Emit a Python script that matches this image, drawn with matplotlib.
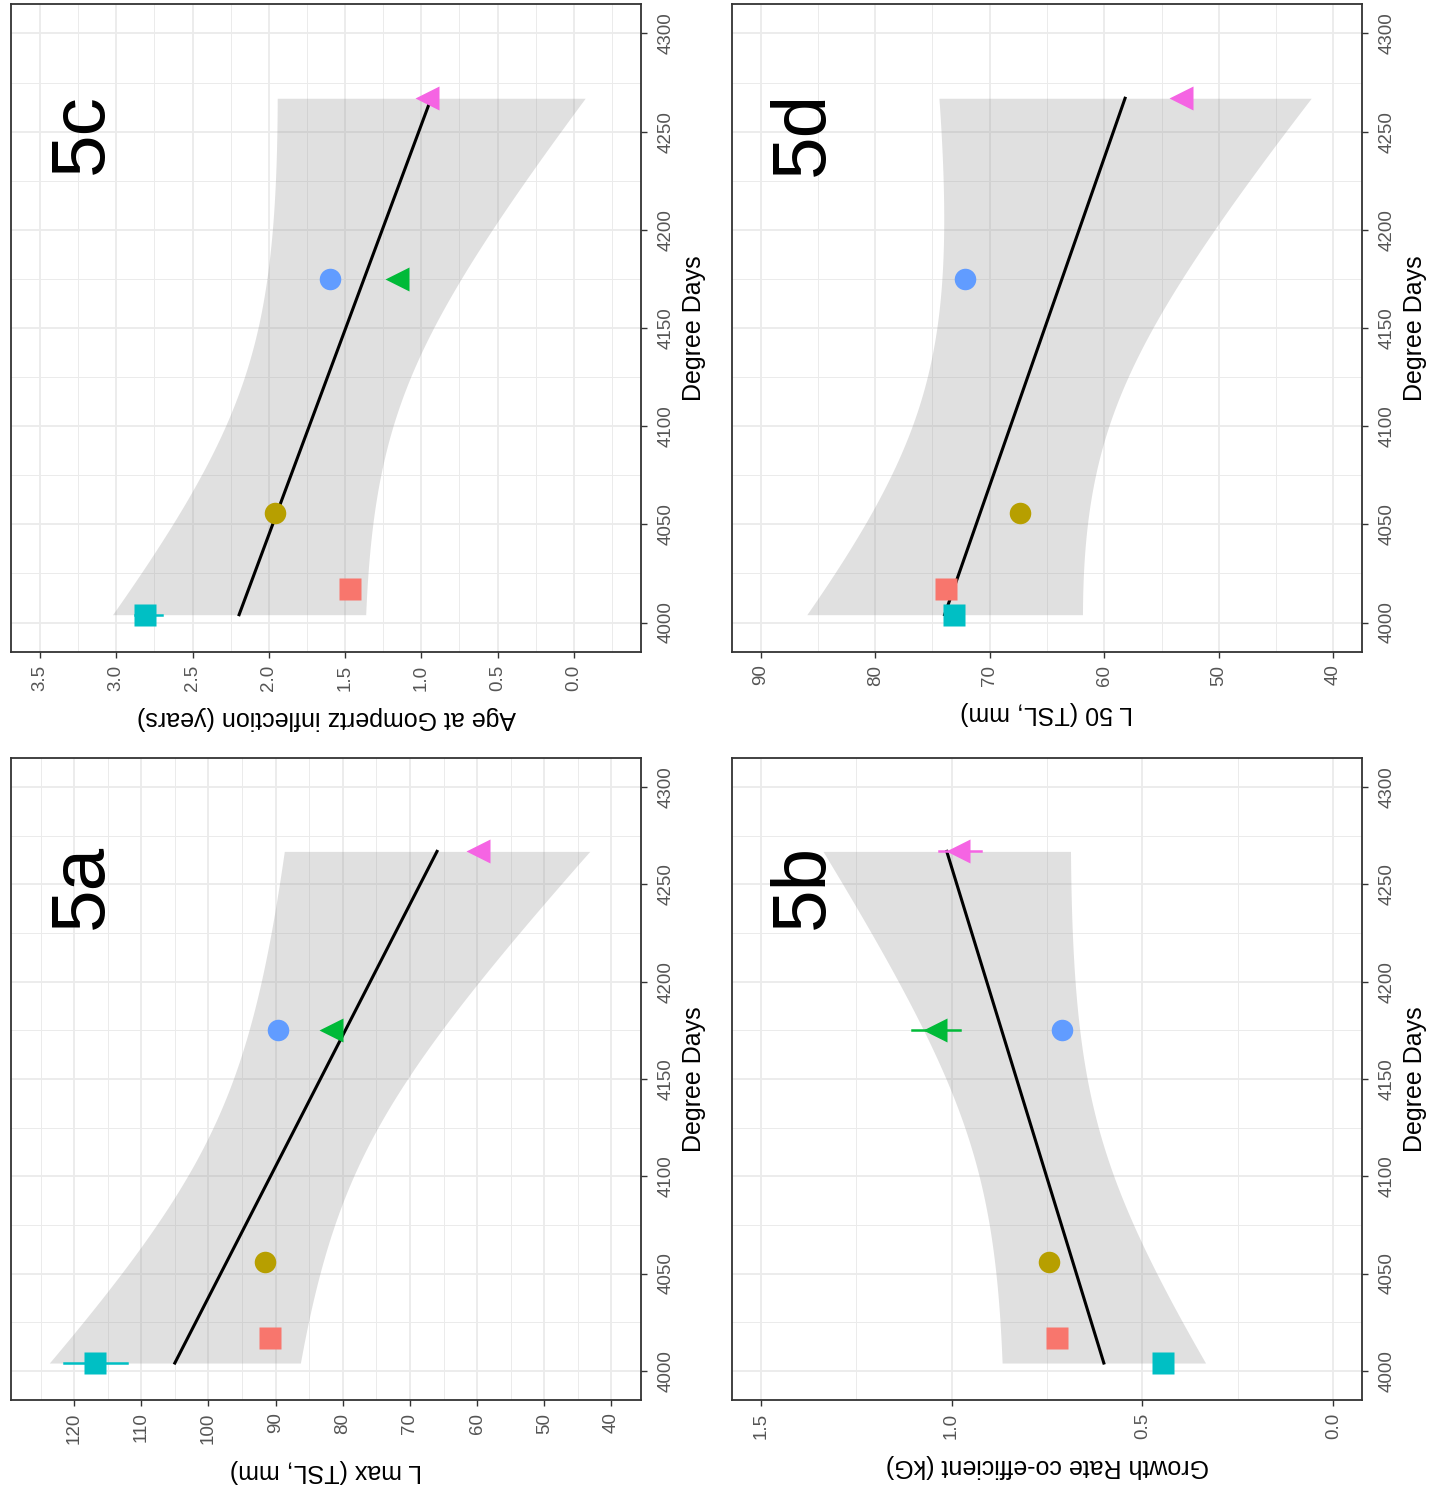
import numpy as np
import matplotlib
matplotlib.use("Agg")
import matplotlib.pyplot as plt
from matplotlib.ticker import MultipleLocator

plt.rcParams['font.family'] = ['Liberation Sans', 'DejaVu Sans']

# ---------------- data ----------------
groups = ["G1", "G2", "G3", "G4", "G5", "G6"]
degree_days = [4004, 4017, 4056, 4175, 4175, 4267]
group_colors = ["#00BFC4", "#F8766D", "#B79F00", "#619CFF", "#00BA38", "#F564E3"]
group_markers = ["s", "s", "o", "o", "<", "<"]

l_max = [116.9, 90.9, 91.6, 89.6, 81.8, 59.8]
l_max_lo = [112.1, None, None, None, None, None]
l_max_hi = [121.5, None, None, None, None, None]

growth_kg = [0.447, 0.724, 0.745, 0.712, 1.044, 0.983]
growth_kg_lo = [None, None, None, None, 0.977, 0.923]
growth_kg_hi = [None, None, None, None, 1.104, 1.032]

age_inflection = [2.81, 1.47, 1.96, 1.60, 1.16, 0.96]
age_inflection_lo = [2.70, None, None, None, None, None]
age_inflection_hi = [2.88, None, None, None, None, None]

l50 = [73.1, 73.8, 67.4, 72.2, None, 53.3]
l50_lo = [None] * 6
l50_hi = [None] * 6

panel_labels = ["5a", "5b", "5c", "5d"]
value_titles = ["L max (TSL, mm)", "Growth Rate co-efficient (kG)",
                "Age at Gompertz inflection (years)", "L 50 (TSL, mm)"]
value_ticks = [[40, 50, 60, 70, 80, 90, 100, 110, 120],
               [0.0, 0.5, 1.0, 1.5],
               [0.0, 0.5, 1.0, 1.5, 2.0, 2.5, 3.0, 3.5],
               [40, 50, 60, 70, 80, 90]]
value_ticklabels = [[str(v) for v in value_ticks[0]],
                    ["0.0", "0.5", "1.0", "1.5"],
                    ["0.0", "0.5", "1.0", "1.5", "2.0", "2.5", "3.0", "3.5"],
                    [str(v) for v in value_ticks[3]]]
value_limits = [(129.4, 35.6), (1.575, -0.075), (3.69, -0.44), (92.5, 37.5)]
dd_ticks = [4000, 4050, 4100, 4150, 4200, 4250, 4300]
dd_limits = (3985, 4315)

# t quantiles (0.975) by residual degrees of freedom, for lm confidence band
t975 = {3: 3.182446, 4: 2.776445}

# ---------------- figure ----------------
W, H = 1431, 1499
fig = plt.figure(figsize=(W / 100, H / 100), dpi=100)

def px_axes(x0, y0, x1, y1):
    return fig.add_axes([x0 / W, 1 - y1 / H, (x1 - x0) / W, (y1 - y0) / H])

# panel frames in pixel coords (x0, y0, x1, y1) -- figure is shown rotated
frames = {
    "5a": (11, 758, 641, 1400),
    "5b": (732, 758, 1362, 1400),
    "5c": (11, 4, 641, 652),
    "5d": (732, 4, 1362, 652),
}
series = {
    "5a": (l_max, l_max_lo, l_max_hi),
    "5b": (growth_kg, growth_kg_lo, growth_kg_hi),
    "5c": (age_inflection, age_inflection_lo, age_inflection_hi),
    "5d": (l50, l50_lo, l50_hi),
}

grid_col = "#EBEBEB"
frame_col = "#333333"

for i, lab in enumerate(panel_labels):
    ax = px_axes(*frames[lab])
    vals, lo, hi = series[lab]
    xs = np.array(degree_days, dtype=float)
    ys = np.array([np.nan if v is None else v for v in vals], dtype=float)
    ok = ~np.isnan(ys)
    xo, yo = xs[ok], ys[ok]

    # linear fit + 95% confidence band (as geom_smooth(method = "lm"))
    n = len(xo)
    b1, b0 = np.polyfit(xo, yo, 1)
    resid = yo - (b0 + b1 * xo)
    s = np.sqrt(np.sum(resid ** 2) / (n - 2))
    sxx = np.sum((xo - xo.mean()) ** 2)
    grid = np.linspace(xo.min(), xo.max(), 120)
    fit = b0 + b1 * grid
    se = s * np.sqrt(1.0 / n + (grid - xo.mean()) ** 2 / sxx)
    tq = t975[n - 2]

    # rotated view: value on horizontal (inverted), degree days on vertical
    ax.fill_betweenx(grid, fit - tq * se, fit + tq * se, color="#999999",
                     alpha=0.3, lw=0, zorder=2)
    ax.plot(fit, grid, color="black", lw=2.2, zorder=3)

    for j in range(len(groups)):
        if not ok[j]:
            continue
        if lo[j] is not None:
            ax.plot([lo[j], hi[j]], [xs[j], xs[j]], color=group_colors[j],
                    lw=1.8, zorder=4)
        mk = group_markers[j]
        ms = {"s": 15.5, "o": 15.5, "<": 17}[mk]
        ax.plot(ys[j], xs[j], marker=mk, ms=ms, color=group_colors[j],
                mec="none", ls="none", zorder=5)

    ax.set_xlim(*value_limits[i])
    ax.set_ylim(*dd_limits)

    ax.set_xticks(value_ticks[i])
    ax.set_xticklabels(value_ticklabels[i], rotation=90, fontsize=13.5,
                       color="#555555")
    vt = value_ticks[i]
    step = vt[1] - vt[0]
    ax.xaxis.set_minor_locator(MultipleLocator(step / 2))
    ax.set_yticks(dd_ticks)
    ax.yaxis.tick_right()
    ax.set_yticklabels([str(t) for t in dd_ticks], rotation=90, fontsize=13.5,
                       color="#555555", va="center")
    ax.yaxis.set_minor_locator(MultipleLocator(25))

    ax.grid(which="major", color=grid_col, lw=1.3, zorder=0)
    ax.grid(which="minor", color=grid_col, lw=0.7, zorder=0)
    ax.set_axisbelow(True)
    ax.tick_params(which="major", length=4, width=1, color=frame_col)
    ax.tick_params(axis="x", which="major", pad=5)
    ax.tick_params(axis="y", which="major", pad=8)
    ax.tick_params(which="minor", length=0)
    for sp in ax.spines.values():
        sp.set_color(frame_col)
        sp.set_linewidth(1.3)

    ax.set_xlabel(value_titles[i], rotation=180, fontsize=18, labelpad=11)
    ax.yaxis.set_label_position("right")
    ax.set_ylabel("Degree Days", rotation=90, fontsize=18, labelpad=5)

    ax.text(0.113, 0.80, lab, transform=ax.transAxes, rotation=90,
            fontsize=55, ha="center", va="center", color="black", zorder=6)

fig.savefig("out.png", dpi=100, facecolor="white")
